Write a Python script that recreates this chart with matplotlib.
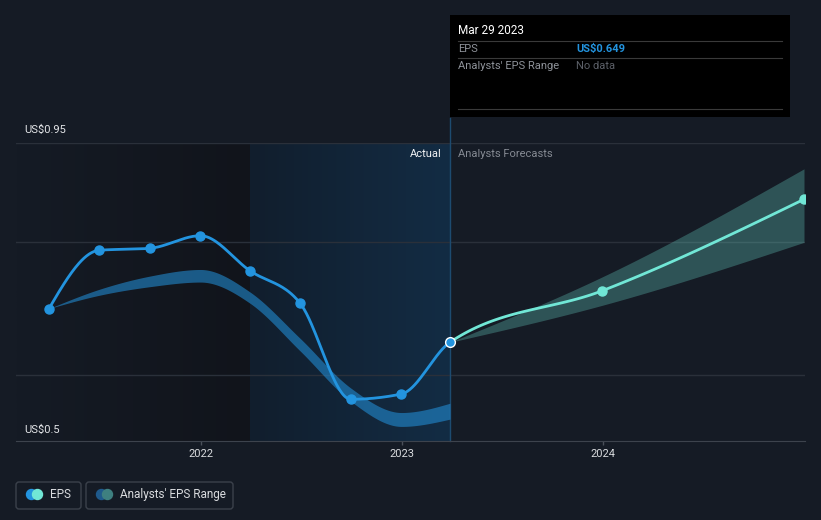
import datetime as dt
import numpy as np
import matplotlib
matplotlib.use('Agg')
import matplotlib.pyplot as plt
import matplotlib.dates as mdates
from matplotlib.patches import Rectangle, FancyBboxPatch, Circle

plt.rcParams['font.family'] = ['Roboto', 'DejaVu Sans']

W, H = 821, 520

# data
actual_dates = ['2021-03-31', '2021-06-30', '2021-09-30', '2021-12-31', '2022-03-31',
                '2022-06-30', '2022-09-30', '2022-12-31', '2023-03-29']
actual_eps = [0.700, 0.788, 0.791, 0.810, 0.757, 0.708, 0.563, 0.571, 0.649]
past_range_low = [0.700, 0.720, 0.733, 0.740, 0.708, 0.636, 0.560, 0.522, 0.533]
past_range_high = [0.700, 0.729, 0.749, 0.759, 0.725, 0.655, 0.580, 0.543, 0.557]

forecast_dates = ['2023-12-31', '2024-12-31']
forecast_eps = [0.727, 0.865]
forecast_low = [0.705, 0.800]
forecast_high = [0.748, 0.911]

year_ticks = ['2022', '2023', '2024']
y_min, y_max = 0.5, 0.95
grid_values = [0.6, 0.8, 0.95]

BG = '#151b25'
BLUE = '#2394df'
TEAL = '#71e7d6'
GRID = '#2a303a'


def to_num(dates):
    return np.array([mdates.date2num(dt.datetime.strptime(d, '%Y-%m-%d')) for d in dates])


def monotone_curve(x, y, n=40):
    """monotone cubic through the points (same idea as d3 curveMonotoneX)"""
    x = np.asarray(x, float)
    y = np.asarray(y, float)
    h = np.diff(x)
    s = np.diff(y) / h
    t = np.zeros_like(y)
    for i in range(1, len(x) - 1):
        p = (s[i - 1] * h[i] + s[i] * h[i - 1]) / (h[i - 1] + h[i])
        t[i] = (np.sign(s[i - 1]) + np.sign(s[i])) * min(abs(s[i - 1]), abs(s[i]), 0.5 * abs(p))
    if len(x) > 2:
        t[0] = (3 * s[0] - t[1]) / 2
        t[-1] = (3 * s[-1] - t[-2]) / 2
    else:
        t[:] = s[0]
    xs, ys = [], []
    for i in range(len(h)):
        u = np.linspace(0, 1, n, endpoint=(i == len(h) - 1))
        h00 = 2 * u**3 - 3 * u**2 + 1
        h10 = u**3 - 2 * u**2 + u
        h01 = -2 * u**3 + 3 * u**2
        h11 = u**3 - u**2
        xs.append(x[i] + u * h[i])
        ys.append(h00 * y[i] + h10 * h[i] * t[i] + h01 * y[i + 1] + h11 * h[i] * t[i + 1])
    return np.concatenate(xs), np.concatenate(ys)


xa = to_num(actual_dates)
xf = to_num(forecast_dates)
xt = to_num([y + '-01-01' for y in year_ticks])
last_x = xa[-1]

fig = plt.figure(figsize=(W / 100, H / 100), dpi=100, facecolor=BG)
ax = fig.add_axes([16 / W, (H - 441) / H, (805 - 16) / W, (441 - 143) / H])
ax.set_facecolor(BG)

ppx = (xt[2] - xt[0]) / 402.0
xmin = xt[0] - (201 - 16) * ppx
xmax = xt[0] + (805 - 201) * ppx

# shaded background zones
dark = np.linspace([21, 27, 37], [17, 20, 27], 100)[None, :, :] / 255
ax.imshow(dark, extent=[xmin, xa[4], y_min, y_max], aspect='auto', zorder=0)
blue = np.linspace([17, 30, 45], [19, 44, 68], 100)[None, :, :] / 255
ax.imshow(blue, extent=[xa[4], last_x, y_min, y_max], aspect='auto', zorder=0)

for g in grid_values:
    ax.axhline(g, color=GRID, lw=1, zorder=1)

# past analyst range
bx, blo = monotone_curve(xa, past_range_low)
_, bhi = monotone_curve(xa, past_range_high)
ax.fill_between(bx, blo, bhi, color=BLUE, alpha=0.55, lw=0, zorder=2)

# forecast range
fx = np.concatenate([[last_x], xf])
flx, flo = monotone_curve(fx, [actual_eps[-1]] + forecast_low)
_, fhi = monotone_curve(fx, [actual_eps[-1]] + forecast_high)
ax.fill_between(flx, flo, fhi, color=TEAL, alpha=0.28, lw=0, zorder=2)

# eps line (one curve, split at the last actual)
all_x = np.concatenate([xa, xf])
all_y = actual_eps + forecast_eps
cx, cy = monotone_curve(all_x, all_y)
m = cx <= last_x
ax.plot(cx[m], cy[m], color=BLUE, lw=2, zorder=3, solid_capstyle='round')
ax.plot(cx[~m], cy[~m], color=TEAL, lw=2, zorder=3, solid_capstyle='round')
ax.plot(xa[:-1], actual_eps[:-1], 'o', color=BLUE, ms=6.5, zorder=4)
ax.plot(xf, forecast_eps, 'o', color=TEAL, ms=6.5, zorder=4)
ax.plot([last_x], [actual_eps[-1]], 'o', color=BLUE, mec='white', mew=1, ms=7, zorder=5)

# today line
ax.plot([last_x, last_x], [y_min, y_max + 25 / 662], color='#1d4b70', lw=1, zorder=1, clip_on=False)

ax.set_xlim(xmin, xmax)
ax.set_ylim(y_min, y_max)
for sp in ['top', 'right', 'left']:
    ax.spines[sp].set_visible(False)
ax.spines['bottom'].set_color('#3d434d')
ax.set_yticks([])
ax.set_xticks(xt)
ax.set_xticklabels(year_ticks)
ax.tick_params(axis='x', colors='#4a505a', length=3, width=1, labelcolor='#d9dbde',
               labelsize=8, pad=3)

# overlay in pixel coordinates for annotations
ov = fig.add_axes([0, 0, 1, 1])
ov.set_xlim(0, W)
ov.set_ylim(H, 0)
ov.axis('off')
ov.patch.set_visible(False)

ov.text(24, 130, 'US$0.95', color='#e3e5e8', fontsize=8, va='center')
ov.text(24, 430, 'US$0.5', color='#e3e5e8', fontsize=8, va='center')
ov.text(442, 154, 'Actual', color='#f0f1f3', fontsize=8, va='center', ha='right')
ov.text(458, 154, 'Analysts Forecasts', color='#858a93', fontsize=8, va='center')

# tooltip
ov.add_patch(Rectangle((450, 15), 340, 102, fc='black', ec='none'))
for yy in [41, 58, 109]:
    ov.plot([458, 782], [yy, yy], color='#3a3a3a', lw=0.8)
ov.text(458, 31, 'Mar 29 2023', color='white', fontsize=8.5, va='center')
ov.text(458, 49, 'EPS', color='#8e9299', fontsize=8, va='center')
ov.text(576, 49, 'US$0.649', color=BLUE, fontsize=8, va='center', fontweight='bold')
ov.text(458, 66, "Analysts' EPS Range", color='#8e9299', fontsize=8, va='center')
ov.text(576, 66, 'No data', color='#5c6068', fontsize=8, va='center')

# legend
ov.add_patch(FancyBboxPatch((16, 482), 65, 27, boxstyle='round,pad=0,rounding_size=3',
                            fc='none', ec='#3b414b', lw=1))
ov.add_patch(Circle((31.5, 494.5), 5, color=BLUE))
ov.add_patch(Circle((37.5, 494.5), 5, color=TEAL))
ov.text(50, 494.5, 'EPS', color='#d9dbde', fontsize=8.5, va='center')

ov.add_patch(FancyBboxPatch((86, 482), 147, 27, boxstyle='round,pad=0,rounding_size=3',
                            fc='none', ec='#3b414b', lw=1))
ov.add_patch(Circle((101.5, 494.5), 5, color='#1f5a8c'))
ov.add_patch(Circle((107.5, 494.5), 5, color='#3e8080'))
ov.text(120, 494.5, "Analysts' EPS Range", color='#d9dbde', fontsize=8.5, va='center')

fig.savefig('out.png', dpi=100, facecolor=BG)
